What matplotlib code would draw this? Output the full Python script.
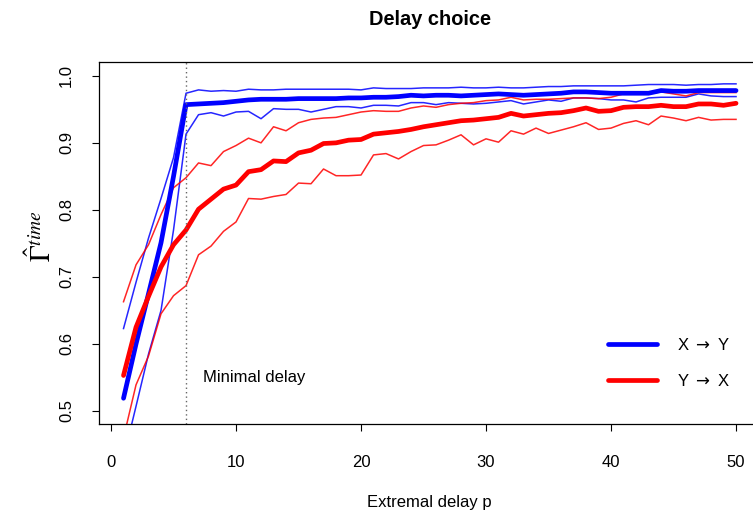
import numpy as np
import matplotlib
matplotlib.use("Agg")
import matplotlib.pyplot as plt

plt.rcParams['font.family'] = ['Liberation Sans', 'DejaVu Sans']
plt.rcParams['font.size'] = 12

# delays p = 1..50
p = np.arange(1, 51)

# X -> Y : mean and band
xy_mean = [0.519, 0.600, 0.675, 0.751, 0.850, 0.957, 0.958, 0.959, 0.960, 0.962,
           0.964, 0.965, 0.965, 0.965, 0.966, 0.966, 0.966, 0.966, 0.967, 0.967,
           0.968, 0.968, 0.969, 0.971, 0.970, 0.971, 0.971, 0.970, 0.971, 0.972,
           0.973, 0.972, 0.971, 0.972, 0.973, 0.974, 0.976, 0.976, 0.975, 0.974,
           0.974, 0.974, 0.974, 0.978, 0.977, 0.977, 0.978, 0.978, 0.978, 0.978]
xy_upper = [0.623, 0.692, 0.758, 0.817, 0.878, 0.974, 0.979, 0.977, 0.978, 0.977,
            0.980, 0.979, 0.979, 0.980, 0.980, 0.980, 0.980, 0.980, 0.980, 0.979,
            0.982, 0.981, 0.981, 0.981, 0.982, 0.982, 0.982, 0.983, 0.982, 0.982,
            0.983, 0.982, 0.982, 0.983, 0.984, 0.984, 0.985, 0.985, 0.985, 0.985,
            0.985, 0.986, 0.987, 0.987, 0.987, 0.986, 0.987, 0.987, 0.988, 0.988]
xy_lower = [0.430, 0.507, 0.585, 0.650, 0.770, 0.913, 0.942, 0.945, 0.940, 0.946,
            0.947, 0.936, 0.951, 0.950, 0.950, 0.946, 0.950, 0.954, 0.954, 0.952,
            0.956, 0.956, 0.955, 0.960, 0.960, 0.957, 0.960, 0.959, 0.958, 0.959,
            0.961, 0.963, 0.958, 0.961, 0.964, 0.962, 0.967, 0.967, 0.966, 0.964,
            0.964, 0.961, 0.967, 0.968, 0.968, 0.968, 0.973, 0.970, 0.969, 0.969]

# Y -> X : mean and band
yx_mean = [0.553, 0.625, 0.671, 0.715, 0.748, 0.770, 0.801, 0.816, 0.831, 0.837,
           0.857, 0.860, 0.873, 0.872, 0.885, 0.889, 0.899, 0.900, 0.904, 0.905,
           0.913, 0.915, 0.917, 0.920, 0.924, 0.927, 0.930, 0.933, 0.934, 0.936,
           0.938, 0.944, 0.940, 0.942, 0.944, 0.945, 0.948, 0.952, 0.947, 0.948,
           0.953, 0.954, 0.954, 0.956, 0.954, 0.954, 0.958, 0.958, 0.956, 0.959]
yx_upper = [0.663, 0.718, 0.748, 0.793, 0.833, 0.848, 0.870, 0.866, 0.887, 0.896,
            0.907, 0.900, 0.924, 0.918, 0.930, 0.935, 0.937, 0.938, 0.942, 0.946,
            0.948, 0.947, 0.947, 0.952, 0.955, 0.953, 0.957, 0.959, 0.960, 0.963,
            0.964, 0.968, 0.964, 0.965, 0.965, 0.966, 0.967, 0.967, 0.966, 0.968,
            0.973, 0.973, 0.973, 0.976, 0.973, 0.970, 0.975, 0.975, 0.975, 0.975]
yx_lower = [0.460, 0.539, 0.582, 0.645, 0.672, 0.687, 0.733, 0.746, 0.768, 0.782,
            0.817, 0.816, 0.820, 0.823, 0.840, 0.839, 0.861, 0.851, 0.851, 0.852,
            0.882, 0.884, 0.876, 0.887, 0.896, 0.897, 0.904, 0.912, 0.897, 0.906,
            0.901, 0.918, 0.913, 0.922, 0.914, 0.919, 0.924, 0.930, 0.920, 0.922,
            0.929, 0.933, 0.927, 0.940, 0.937, 0.933, 0.938, 0.934, 0.935, 0.935]

min_delay = 6
xticks = [0, 10, 20, 30, 40, 50]
yticks = [0.5, 0.6, 0.7, 0.8, 0.9, 1.0]

fig = plt.figure(figsize=(7.53, 5.17), dpi=100)
ax = fig.add_axes([0.1315, 0.1791, 0.8785, 0.7002])

# thin band lines
ax.plot(p, xy_upper, color='blue', lw=1.1, alpha=0.85)
ax.plot(p, xy_lower, color='blue', lw=1.1, alpha=0.85)
ax.plot(p, yx_upper, color='red', lw=1.1, alpha=0.85)
ax.plot(p, yx_lower, color='red', lw=1.1, alpha=0.85)
# means
ax.plot(p, xy_mean, color='blue', lw=3.4, solid_capstyle='round', label=r'X $\rightarrow$ Y')
ax.plot(p, yx_mean, color='red', lw=3.4, solid_capstyle='round', label=r'Y $\rightarrow$ X')

ax.axvline(min_delay, color='#666666', lw=1.0, ls=(0, (1, 2.2)))
ax.text(min_delay + 1.35, 0.55, 'Minimal delay', ha='left', va='center', fontsize=12)

ax.set_xlim(-0.96, 51.96)
ax.set_ylim(0.48, 1.02)
ax.set_xticks(xticks)
ax.set_yticks(yticks)
ax.set_yticklabels([f'{v:.1f}' for v in yticks], rotation=90, va='center')
ax.tick_params(direction='out', length=5, width=0.8, labelsize=12)
ax.tick_params(axis='x', pad=17)
ax.tick_params(axis='y', pad=13)
for s in ax.spines.values():
    s.set_linewidth(0.9)

ax.set_title('Delay choice', fontsize=14.4, fontweight='bold', pad=27)
ax.set_xlabel('Extremal delay p', fontsize=12, labelpad=18)
ax.set_ylabel(r'$\hat{\Gamma}^{time}$', fontsize=20, math_fontfamily='stix')
ax.yaxis.set_label_coords(-0.064, 0.52)

ax.legend(loc='upper left', bbox_to_anchor=(0.788, 0.378), bbox_transform=fig.transFigure,
          frameon=False, handlelength=2.9, handletextpad=1.2, labelspacing=1.2, fontsize=12)

fig.savefig('out.png', dpi=100)
